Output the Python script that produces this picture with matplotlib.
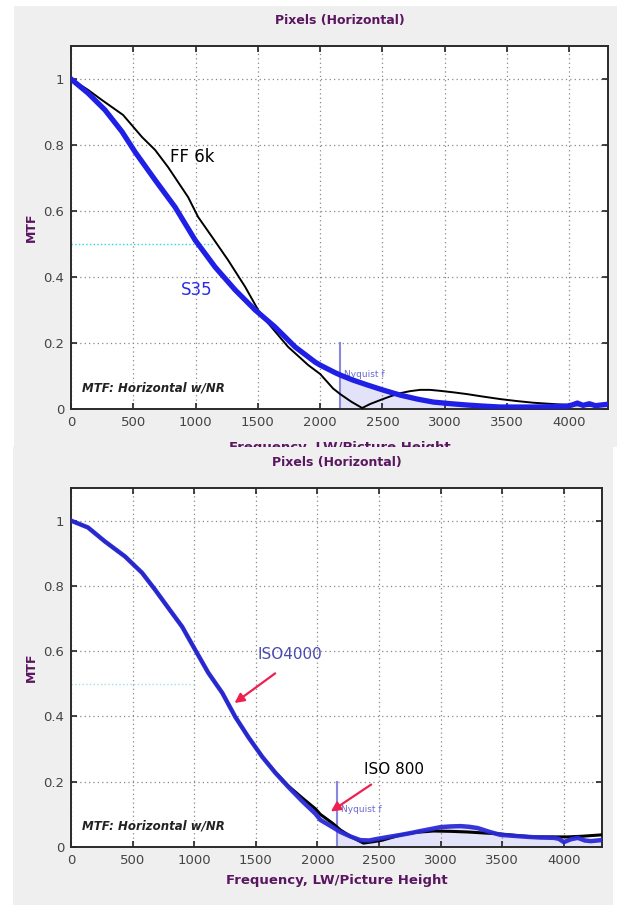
import numpy as np
import matplotlib.pyplot as plt
from matplotlib.patches import Rectangle

# MTF curves, frequency in LW/PH
ff6k_f = [0, 137, 249, 418, 570, 675, 779, 940, 1020, 1133, 1261, 1398, 1502, 1582,
          1743, 1840, 1904, 2000, 2104, 2161, 2250, 2337, 2400, 2482, 2560, 2643, 2720,
          2803, 2880, 2964, 3080, 3181, 3300, 3446, 3580, 3711, 3871, 4000, 4150, 4300]
ff6k_m = [1.0, 0.967, 0.936, 0.891, 0.824, 0.785, 0.733, 0.642, 0.582, 0.521, 0.451, 0.370,
          0.300, 0.260, 0.188, 0.155, 0.133, 0.106, 0.062, 0.045, 0.022, 0.003, 0.015,
          0.027, 0.038, 0.048, 0.054, 0.058, 0.058, 0.055, 0.050, 0.045, 0.038, 0.030,
          0.024, 0.019, 0.015, 0.012, 0.010, 0.009]

s35_f = [0, 137, 273, 410, 514, 675, 835, 996, 1157, 1317, 1478, 1639, 1799, 1960, 2000,
         2120, 2161, 2260, 2377, 2500, 2643, 2780, 2908, 3050, 3181, 3300, 3446, 3580,
         3711, 3850, 3984, 4020, 4064, 4110, 4160, 4210, 4273, 4300]
s35_m = [1.0, 0.957, 0.906, 0.840, 0.779, 0.694, 0.612, 0.512, 0.430, 0.361, 0.300, 0.248,
         0.188, 0.142, 0.133, 0.110, 0.103, 0.088, 0.073, 0.058, 0.042, 0.030, 0.021,
         0.016, 0.012, 0.009, 0.006, 0.006, 0.006, 0.007, 0.009, 0.012, 0.018, 0.011,
         0.016, 0.010, 0.013, 0.014]

iso800_f = [0, 138, 276, 439, 577, 683, 789, 902, 1008, 1114, 1228, 1333, 1439, 1553,
            1659, 1764, 1878, 1984, 2024, 2122, 2187, 2280, 2374, 2450, 2528, 2675, 2800,
            2943, 3080, 3220, 3350, 3488, 3620, 3756, 3900, 4033, 4150, 4300]
iso800_m = [1.0, 0.979, 0.936, 0.890, 0.840, 0.788, 0.733, 0.675, 0.604, 0.534, 0.472,
            0.399, 0.337, 0.276, 0.229, 0.187, 0.150, 0.117, 0.100, 0.073, 0.052, 0.030,
            0.012, 0.016, 0.021, 0.037, 0.045, 0.049, 0.048, 0.046, 0.043, 0.040, 0.035,
            0.031, 0.031, 0.031, 0.033, 0.037]

iso4000_f = [0, 138, 276, 439, 577, 683, 789, 902, 1008, 1114, 1228, 1333, 1439, 1553,
             1659, 1764, 1878, 1984, 2024, 2122, 2187, 2270, 2350, 2420, 2488, 2580, 2675,
             2760, 2837, 2920, 3000, 3080, 3163, 3230, 3301, 3400, 3488, 3600, 3707, 3810,
             3919, 3960, 4000, 4060, 4114, 4170, 4220, 4300]
iso4000_m = [1.0, 0.979, 0.936, 0.890, 0.840, 0.788, 0.733, 0.675, 0.604, 0.534, 0.472,
             0.399, 0.337, 0.276, 0.227, 0.184, 0.140, 0.102, 0.083, 0.061, 0.046, 0.032,
             0.021, 0.020, 0.025, 0.031, 0.037, 0.043, 0.049, 0.055, 0.061, 0.063, 0.064,
             0.062, 0.058, 0.046, 0.037, 0.034, 0.031, 0.029, 0.028, 0.025, 0.015, 0.024,
             0.028, 0.020, 0.018, 0.021]

nyquist = 2160
mtf50_end = [1140, 990]
xticks = [0, 500, 1000, 1500, 2000, 2500, 3000, 3500, 4000]
yticks = [0, 0.2, 0.4, 0.6, 0.8, 1]
ytick_labels = ['0', '0.2', '0.4', '0.6', '0.8', '1']

purple = '#5a1660'
panel_bg = '#efefef'

fig = plt.figure(figsize=(6.17, 9.05), dpi=100)
fig.patch.set_facecolor('white')

# panel backgrounds (the lower one sits over the top panel's x label)
fig.add_artist(Rectangle((14 / 617, 1 - 447 / 905), 603 / 617, 441 / 905,
                         transform=fig.transFigure, facecolor=panel_bg,
                         edgecolor='none', zorder=-1))
fig.add_artist(Rectangle((13 / 617, 0), 600 / 617, 458 / 905,
                         transform=fig.transFigure, facecolor=panel_bg,
                         edgecolor='none', zorder=0.5))

ax1 = fig.add_axes([71 / 617, 1 - 409 / 905, 537 / 617, 363 / 905], zorder=0)
ax2 = fig.add_axes([71 / 617, 1 - 847 / 905, 531 / 617, 359 / 905], zorder=1)


def style(ax, xpad):
    ax.set_xlim(0, 4310)
    ax.set_ylim(0, 1.1)
    ax.set_xticks(xticks)
    ax.set_yticks(yticks)
    ax.set_yticklabels(ytick_labels)
    ax.grid(True, linestyle=(0, (1, 2.5)), color='#888888', linewidth=0.9)
    ax.tick_params(direction='in', top=True, right=True, length=4, width=1.2,
                   labelsize=9.5, labelcolor='#444444', color='#222222', pad=5)
    for s in ax.spines.values():
        s.set_linewidth(1.4)
        s.set_color('#2a2a2a')
    ax.set_title('Pixels (Horizontal)', color=purple, fontsize=9, fontweight='bold', pad=16)
    ax.set_ylabel('MTF', color=purple, fontsize=9, fontweight='bold', labelpad=4)
    ax.set_xlabel('Frequency, LW/Picture Height', color=purple, fontsize=9.5,
                  fontweight='bold', labelpad=xpad)
    ax.text(90, 0.063, 'MTF: Horizontal w/NR', fontsize=8.5, fontweight='bold',
            fontstyle='italic', color='#222222', va='center')


def nyquist_marks(ax, f, m, ytext):
    f = np.asarray(f)
    m = np.asarray(m)
    sel = f >= nyquist
    fx = np.concatenate([[nyquist], f[sel]])
    my = np.concatenate([[np.interp(nyquist, f, m)], m[sel]])
    ax.fill_between(fx, 0, my, color='#e2e2f8', zorder=1, linewidth=0)
    ax.plot([nyquist, nyquist], [0, 0.2], color='#8888dd', linewidth=1.5, zorder=2)
    ax.text(nyquist + 30, ytext, 'Nyquist f', fontsize=6.5, color='#6a6ad0', va='center')


# top panel
style(ax1, 9)
nyquist_marks(ax1, s35_f, s35_m, 0.106)
ax1.plot([0, mtf50_end[0]], [0.5, 0.5], color='#22dddd', linestyle=':', linewidth=1.0, zorder=2)
ax1.plot(ff6k_f, ff6k_m, color='black', linewidth=1.4, zorder=3)
ax1.plot(s35_f, s35_m, color='#1f1fe6', linewidth=3.8, zorder=4)
ax1.text(975, 0.765, 'FF 6k', fontsize=12, color='black', ha='center', va='center')
ax1.text(1010, 0.36, 'S35', fontsize=12, color='#2a2ae8', ha='center', va='center')

# bottom panel
style(ax2, 5)
nyquist_marks(ax2, iso4000_f, iso4000_m, 0.116)
ax2.plot([0, mtf50_end[1]], [0.5, 0.5], color='#9fe3e3', linestyle=':', linewidth=1.0, zorder=2)
ax2.plot(iso800_f, iso800_m, color='black', linewidth=2.2, zorder=3)
ax2.plot(iso4000_f, iso4000_m, color='#2a2ad8', linewidth=3.2, zorder=4, alpha=0.95)
ax2.text(1775, 0.589, 'ISO4000', fontsize=11, color='#4a4ab0', ha='center', va='center')
ax2.text(2620, 0.236, 'ISO 800', fontsize=11, color='black', ha='center', va='center')
ax2.annotate('', xy=(1309, 0.436), xytext=(1675, 0.537),
             arrowprops=dict(arrowstyle='-|>', color='#ee2050', lw=1.6, mutation_scale=14),
             zorder=5)
ax2.annotate('', xy=(2090, 0.104), xytext=(2455, 0.196),
             arrowprops=dict(arrowstyle='-|>', color='#ee2050', lw=1.6, mutation_scale=14),
             zorder=5)

fig.savefig('out.png', dpi=100)
